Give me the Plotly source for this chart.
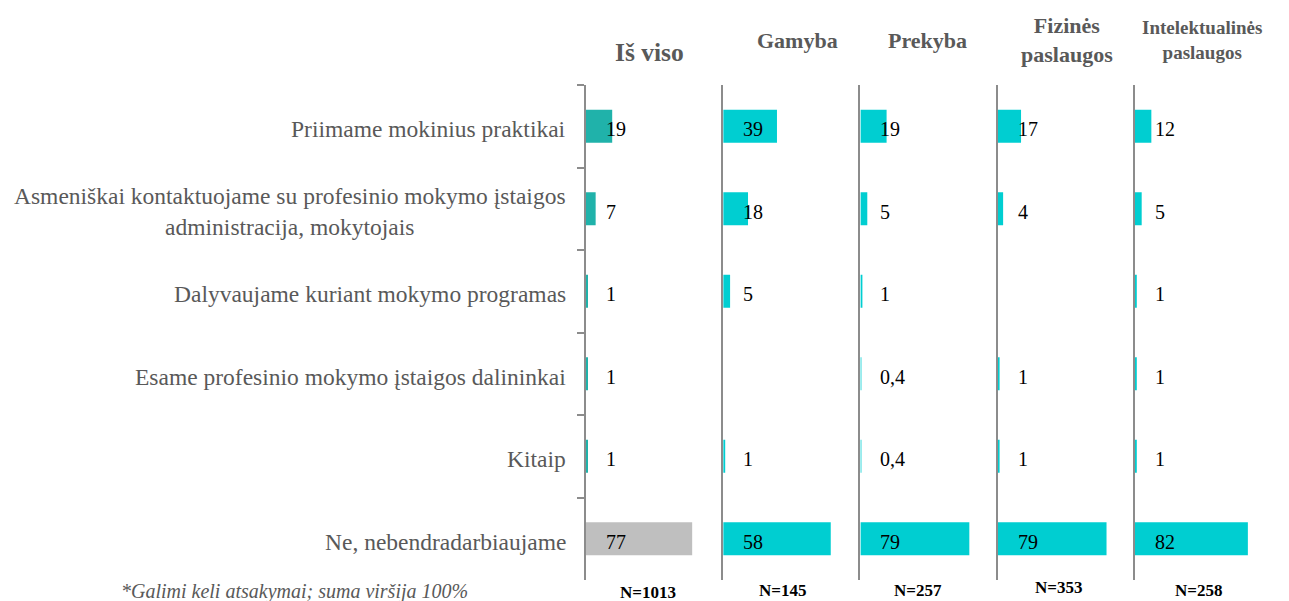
import plotly.graph_objects as go

categories = [
    "Priimame mokinius praktikai",
    "Asmeniškai kontaktuojame su profesinio mokymo įstaigos<br>administracija, mokytojais",
    "Dalyvaujame kuriant mokymo programas",
    "Esame profesinio mokymo įstaigos dalininkai",
    "Kitaip",
    "Ne, nebendradarbiaujame",
]
panels = ["Iš viso", "Gamyba", "Prekyba", "Fizinės<br>paslaugos", "Intelektualinės<br>paslaugos"]
sample_sizes = ["N=1013", "N=145", "N=257", "N=353", "N=258"]

# bar lengths (the Gamyba "Ne" bar is drawn longer than its label)
is_viso = [19, 7, 1, 1, 1, 77]
gamyba = [39, 18, 5, None, 1, 78]
prekyba = [19, 5, 1, 0.4, 0.4, 79]
fizines = [17, 4, None, 1, 1, 79]
intelektualines = [12, 5, 1, 1, 1, 82]

# data labels as printed on the chart
is_viso_lbl = ["19", "7", "1", "1", "1", "77"]
gamyba_lbl = ["39", "18", "5", "", "1", "58"]
prekyba_lbl = ["19", "5", "1", "0,4", "0,4", "79"]
fizines_lbl = ["17", "4", "", "1", "1", "79"]
intelektualines_lbl = ["12", "5", "1", "1", "1", "82"]

footnote = "*Galimi keli atsakymai; suma viršija 100%"

series = [is_viso, gamyba, prekyba, fizines, intelektualines]
labels = [is_viso_lbl, gamyba_lbl, prekyba_lbl, fizines_lbl, intelektualines_lbl]

TEAL = "#20B2AA"
CYAN = "#00CED1"
GREY = "#BFBFBF"
AXIS = "#8C8C8C"
TEXT = "#595959"
FONT = "Liberation Serif"

W, H = 1289, 601
ML, MR, MT, MB = 586, 17, 85, 21
PH = H - MT - MB
n = len(panels)
pw = 1.0 / n
XMAX = 99.5

fig = go.Figure()

for i, vals in enumerate(series):
    xa = "x" if i == 0 else f"x{i+1}"
    ya = "y" if i == 0 else f"y{i+1}"
    if i == 0:
        colors = [TEAL] * (len(vals) - 1) + [GREY]
    else:
        colors = [CYAN] * len(vals)
    fig.add_trace(go.Bar(
        x=vals, y=categories, orientation="h",
        marker=dict(color=colors, line=dict(width=0)),
        width=0.4, xaxis=xa, yaxis=ya, showlegend=False,
        hoverinfo="skip",
    ))
    # data labels at fixed offset from the axis
    for c, t in zip(categories, labels[i]):
        if t:
            fig.add_annotation(
                x=13.0, y=c, xref=xa, yref=ya, text=t, showarrow=False,
                xanchor="left", yanchor="middle", yshift=-3,
                font=dict(family=FONT, size=20, color="#000000"),
            )

layout = dict(
    width=W, height=H,
    margin=dict(l=ML, r=MR, t=MT, b=MB),
    plot_bgcolor="white", paper_bgcolor="white",
    bargap=0.6,
)

for i in range(n):
    xk = "xaxis" if i == 0 else f"xaxis{i+1}"
    yk = "yaxis" if i == 0 else f"yaxis{i+1}"
    ya = "y" if i == 0 else f"y{i+1}"
    xa = "x" if i == 0 else f"x{i+1}"
    layout[xk] = dict(
        domain=[i * pw, (i + 1) * pw], range=[0, XMAX], anchor=ya,
        visible=False, fixedrange=True,
    )
    ydict = dict(
        domain=[0, 1], anchor=xa, type="category",
        categoryorder="array", categoryarray=categories,
        autorange="reversed",
        showline=True, linecolor=AXIS, linewidth=2,
        showgrid=False, zeroline=False, showticklabels=False,
        fixedrange=True,
    )
    if i == 0:
        ydict.update(ticks="outside", tickson="boundaries", ticklen=7,
                     tickcolor=AXIS, tickwidth=2)
    else:
        ydict.update(ticks="")
        ydict["matches"] = "y"
    layout[yk] = ydict

fig.update_layout(**layout)

# category labels (right-aligned block, centered lines)
for c in categories:
    fig.add_annotation(
        x=0, xref="paper", y=c, yref="y", text=c, showarrow=False,
        xanchor="right", yanchor="middle", align="center", xshift=-18,
        yshift=-3,
        font=dict(family=FONT, size=23.5, color=TEXT),
    )

# panel headers
head_x = [45.7, 53.6, 49.0, 50.0, 48.6]
head_y = [52, 40, 40, 40, 40]
head_size = [25.5, 22, 22, 22, 19]
for i, p in enumerate(panels):
    xa = "x" if i == 0 else f"x{i+1}"
    fig.add_annotation(
        x=head_x[i], xref=xa, y=1 + (MT - head_y[i]) / PH,
        yref="paper", text=f"<b>{p}</b>", showarrow=False,
        xanchor="center", yanchor="middle", align="center",
        font=dict(family=FONT, size=head_size[i], color=TEXT),
    )

# N labels
n_x = [45.0, 43.0, 42.0, 44.0, 46.0]
n_y = [592, 590, 590, 587, 590]
for i, s in enumerate(sample_sizes):
    xa = "x" if i == 0 else f"x{i+1}"
    fig.add_annotation(
        x=n_x[i], xref=xa, y=1 - (n_y[i] - MT) / PH, yref="paper",
        text=f"<b>{s}</b>", showarrow=False, xanchor="center", yanchor="middle",
        font=dict(family=FONT, size=17, color="#000000"),
    )

# footnote
fig.add_annotation(
    x=(294 - ML) / (W - ML - MR), xref="paper",
    y=1 - (591 - MT) / PH, yref="paper",
    text=f"<i>{footnote}</i>", showarrow=False, xanchor="center", yanchor="middle",
    font=dict(family=FONT, size=20, color=TEXT),
)

fig.write_html(
    "out.html",
    config={"displayModeBar": False},
    post_script="document.body.style.margin='0';document.body.style.overflow='hidden';",
)
